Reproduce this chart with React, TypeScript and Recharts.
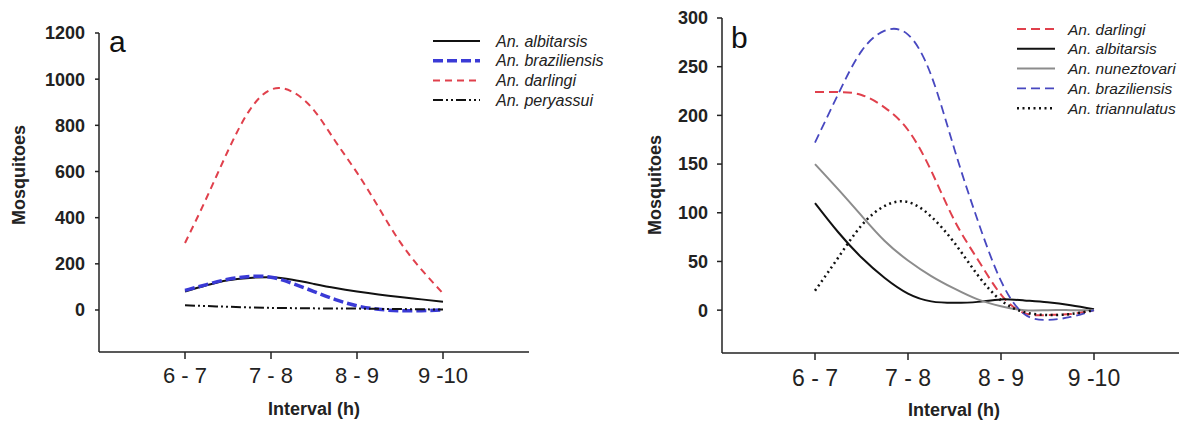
import React from 'react';
import { LineChart, Line, XAxis, YAxis } from 'recharts';

const FONT = 'Arial, "Liberation Sans", Helvetica, sans-serif';

// Shared x categories
const intervalLabels = ['6 - 7', '7 - 8', '8 - 9', '9 -10'];
const intervalTicks = [1, 2, 3, 4];
const samplePositions = [1, 1.25, 1.5, 1.75, 2, 2.25, 2.5, 2.75, 3, 3.25, 3.5, 3.75, 4];

// Panel a values
const aAlbitarsis = [80, 107, 129, 139, 142, 131, 113, 95, 80, 67, 56, 46, 36];
const aBraziliensis = [85, 110, 133, 145, 142, 115, 80, 45, 18, 3, -3, -3, 0];
const aDarlingi = [290, 485, 690, 865, 955, 945, 865, 730, 595, 445, 295, 175, 72];
const aPeryassui = [20, 17, 14, 11, 9, 8, 7, 6, 6, 5, 4, 3, 2];
const aYTicks = [0, 200, 400, 600, 800, 1000, 1200];

// Panel b values
const bDarlingi = [224, 224, 221, 208, 185, 143, 92, 52, 16, -3, -5, -4, 0];
const bAlbitarsis = [110, 80, 54, 33, 17, 9, 7.5, 8.5, 11, 10, 8, 5, 1];
const bNuneztovari = [150, 124, 97, 71, 51, 35, 22, 11, 4, 0, 0, 0, 0];
const bBraziliensis = [172, 222, 266, 287, 283, 241, 165, 92, 30, -4, -10, -7, 0];
const bTriannulatus = [20, 54, 87, 107, 111, 96, 69, 36, 10, -2, -5, -4, 0];
const bYTicks = [0, 50, 100, 150, 200, 250, 300];

type Series = { key: string; name: string; values: number[]; color: string; width: number; dash?: string };

const aSeries: Series[] = [
  { key: 'albitarsis', name: 'An. albitarsis', values: aAlbitarsis, color: '#111111', width: 2 },
  { key: 'braziliensis', name: 'An. braziliensis', values: aBraziliensis, color: '#3a3ad6', width: 3.5, dash: '10 4' },
  { key: 'darlingi', name: 'An. darlingi', values: aDarlingi, color: '#e0404c', width: 2, dash: '7 5' },
  { key: 'peryassui', name: 'An. peryassui', values: aPeryassui, color: '#111111', width: 2, dash: '10 3 2 3 2 3' },
];

const bSeries: Series[] = [
  { key: 'darlingi', name: 'An. darlingi', values: bDarlingi, color: '#e0404c', width: 2, dash: '9 5' },
  { key: 'albitarsis', name: 'An. albitarsis', values: bAlbitarsis, color: '#111111', width: 2 },
  { key: 'nuneztovari', name: 'An. nuneztovari', values: bNuneztovari, color: '#8c8c8c', width: 2 },
  { key: 'braziliensis', name: 'An. braziliensis', values: bBraziliensis, color: '#4848c0', width: 1.8, dash: '9 5' },
  { key: 'triannulatus', name: 'An. triannulatus', values: bTriannulatus, color: '#111111', width: 2.5, dash: '2 3.5' },
];

const buildData = (series: Series[]) =>
  samplePositions.map((x, i) => {
    const row: Record<string, number> = { x };
    series.forEach((s) => {
      row[s.key] = s.values[i];
    });
    return row;
  });

const aData = buildData(aSeries);
const bData = buildData(bSeries);

const axisStroke = { stroke: '#222', strokeWidth: 1.5 };

function Legend({ series, lineX1, lineX2, textX, y0, dy, fontSize }: { series: Series[]; lineX1: number; lineX2: number; textX: number; y0: number; dy: number; fontSize: number }) {
  return (
    <g>
      {series.map((s, i) => {
        const y = y0 + i * dy;
        return (
          <g key={s.key}>
            <line x1={lineX1} x2={lineX2} y1={y} y2={y} stroke={s.color} strokeWidth={s.width} strokeDasharray={s.dash} />
            <text x={textX} y={y} dominantBaseline="central" fontStyle="italic" fontSize={fontSize} fill="#222" fontFamily={FONT}>
              {s.name}
            </text>
          </g>
        );
      })}
    </g>
  );
}

export default function App() {
  return (
    <div style={{ position: 'fixed', left: 0, top: 0, width: 1179, height: 421, overflow: 'hidden', background: '#fff', fontFamily: FONT }}>
      <div style={{ position: 'absolute', left: 0, top: 0 }}>
        <LineChart width={600} height={421} data={aData} margin={{ top: 33, right: 71, bottom: 0, left: 0 }}>
          <XAxis
            type="number"
            dataKey="x"
            domain={[0, 5]}
            ticks={intervalTicks}
            interval={0}
            tickFormatter={(v: number) => intervalLabels[v - 1]}
            axisLine={axisStroke}
            tickLine={axisStroke}
            tickSize={7}
            tickMargin={8}
            height={69}
            tick={{ fontSize: 22, fill: '#222', fontFamily: FONT }}
          />
          <YAxis
            type="number"
            domain={[-182, 1200]}
            ticks={aYTicks}
            interval={0}
            width={99}
            axisLine={axisStroke}
            tickLine={axisStroke}
            tickSize={4}
            tickMargin={10}
            allowDataOverflow
            tick={{ fontSize: 18, fontWeight: 'bold', fill: '#222', fontFamily: FONT }}
          />
          {aSeries.map((s) => (
            <Line
              key={s.key}
              dataKey={s.key}
              name={s.name}
              type="natural"
              stroke={s.color}
              strokeWidth={s.width}
              strokeDasharray={s.dash}
              dot={false}
              activeDot={false}
              isAnimationActive={false}
            />
          ))}
        </LineChart>
      </div>
      <div style={{ position: 'absolute', left: 600, top: 0 }}>
        <LineChart width={600} height={421} data={bData} margin={{ top: 18, right: 13, bottom: 0, left: 0 }}>
          <XAxis
            type="number"
            dataKey="x"
            domain={[0, 5]}
            ticks={intervalTicks}
            interval={0}
            tickFormatter={(v: number) => intervalLabels[v - 1]}
            axisLine={axisStroke}
            tickLine={axisStroke}
            tickSize={7}
            tickMargin={10}
            height={68}
            tick={{ fontSize: 23, fill: '#222', fontFamily: FONT }}
          />
          <YAxis
            type="number"
            domain={[-44, 300]}
            ticks={bYTicks}
            interval={0}
            width={122}
            axisLine={axisStroke}
            tickLine={axisStroke}
            tickSize={5}
            tickMargin={9}
            allowDataOverflow
            tick={{ fontSize: 18, fontWeight: 'bold', fill: '#222', fontFamily: FONT }}
          />
          {bSeries.map((s) => (
            <Line
              key={s.key}
              dataKey={s.key}
              name={s.name}
              type="natural"
              stroke={s.color}
              strokeWidth={s.width}
              strokeDasharray={s.dash}
              dot={false}
              activeDot={false}
              isAnimationActive={false}
            />
          ))}
        </LineChart>
      </div>
      <svg width={1179} height={421} style={{ position: 'absolute', left: 0, top: 0, pointerEvents: 'none' }}>
        <text x={109} y={52} fontSize={30} fill="#111" fontFamily={FONT}>a</text>
        <text x={731} y={48} fontSize={30} fill="#111" fontFamily={FONT}>b</text>
        <text transform="translate(19,175) rotate(-90)" textAnchor="middle" dominantBaseline="central" fontSize={18} fontWeight="bold" fill="#222" fontFamily={FONT}>Mosquitoes</text>
        <text transform="translate(655,185) rotate(-90)" textAnchor="middle" dominantBaseline="central" fontSize={18} fontWeight="bold" fill="#222" fontFamily={FONT}>Mosquitoes</text>
        <text x={314} y={415} textAnchor="middle" fontSize={18} fontWeight="bold" fill="#222" fontFamily={FONT}>Interval (h)</text>
        <text x={954} y={416} textAnchor="middle" fontSize={18} fontWeight="bold" fill="#222" fontFamily={FONT}>Interval (h)</text>
        <Legend series={aSeries} lineX1={433} lineX2={480} textX={496} y0={41} dy={19.7} fontSize={16} />
        <Legend series={bSeries} lineX1={1017} lineX2={1055} textX={1068} y0={29} dy={19.8} fontSize={15.5} />
      </svg>
    </div>
  );
}
